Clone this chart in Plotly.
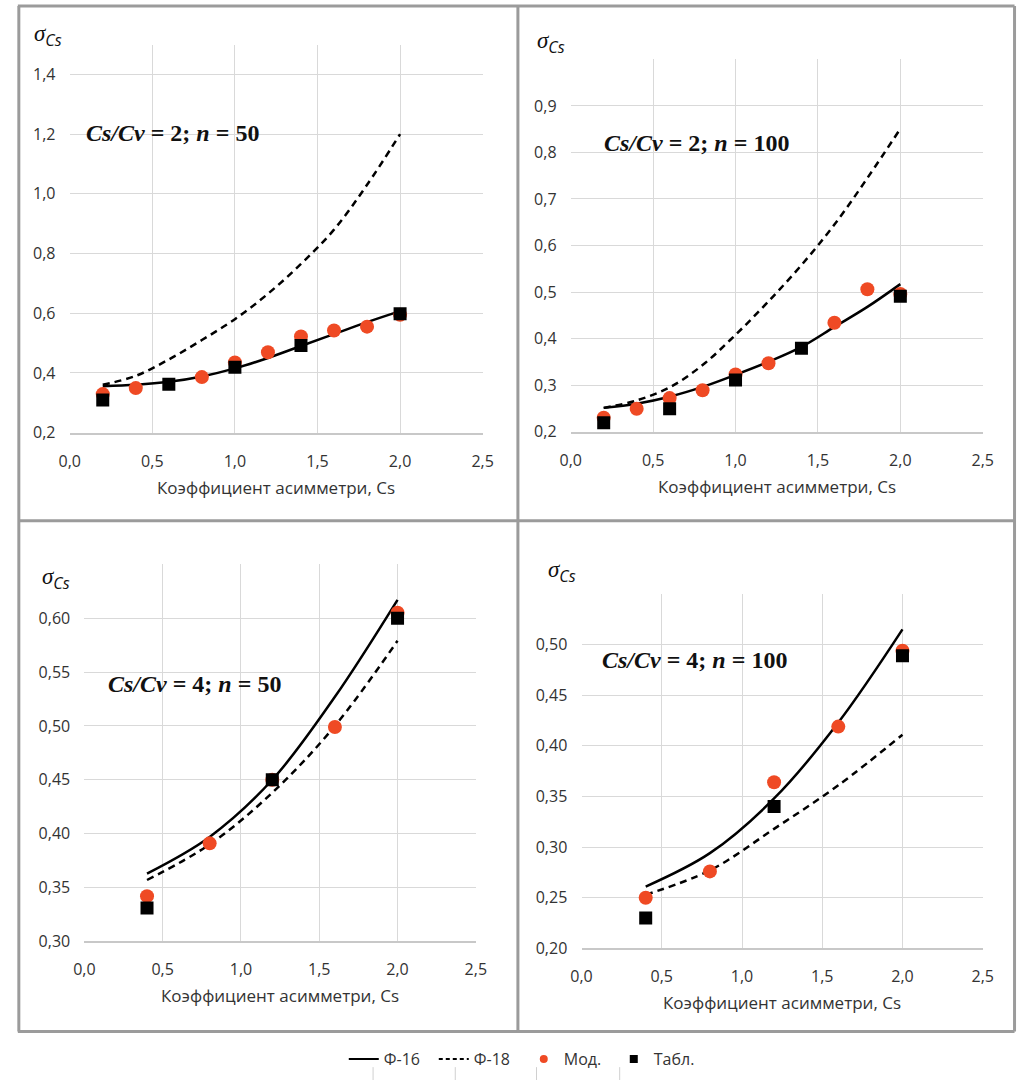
import plotly.graph_objects as go

W, H = 1027, 1091

# ---------------- data ----------------
cs_p1 = [0.2, 0.4, 0.6, 0.8, 1.0, 1.2, 1.4, 1.6, 1.8, 2.0]
f16_p1 = [0.355, 0.36, 0.37, 0.388, 0.415, 0.45, 0.49, 0.53, 0.57, 0.607]
f18_p1 = [0.36, 0.39, 0.445, 0.51, 0.58, 0.665, 0.765, 0.88, 1.03, 1.2]
mod_x_p1 = [0.2, 0.4, 0.8, 1.0, 1.2, 1.4, 1.6, 1.8, 2.0]
mod_p1 = [0.329, 0.349, 0.386, 0.435, 0.469, 0.522, 0.542, 0.555, 0.595]
tab_x_p1 = [0.2, 0.6, 1.0, 1.4, 2.0]
tab_p1 = [0.309, 0.362, 0.419, 0.492, 0.598]

cs_p2 = [0.2, 0.4, 0.6, 0.8, 1.0, 1.2, 1.4, 1.6, 1.8, 2.0]
f16_p2 = [0.251, 0.26, 0.275, 0.296, 0.322, 0.35, 0.382, 0.425, 0.468, 0.517]
f18_p2 = [0.251, 0.267, 0.295, 0.343, 0.408, 0.48, 0.558, 0.645, 0.745, 0.851]
mod_x_p2 = [0.2, 0.4, 0.6, 0.8, 1.0, 1.2, 1.6, 1.8, 2.0]
mod_p2 = [0.23, 0.249, 0.272, 0.289, 0.323, 0.347, 0.434, 0.506, 0.496]
tab_x_p2 = [0.2, 0.6, 1.0, 1.4, 2.0]
tab_p2 = [0.219, 0.249, 0.311, 0.379, 0.491]

cs_p3 = [0.4, 0.8, 1.2, 1.6, 2.0]
f16_p3 = [0.363, 0.397, 0.45, 0.527, 0.617]
f18_p3 = [0.357, 0.39, 0.438, 0.5, 0.579]
mod_x_p3 = [0.4, 0.8, 1.2, 1.6, 2.0]
mod_p3 = [0.342, 0.391, 0.45, 0.499, 0.605]
tab_x_p3 = [0.4, 1.2, 2.0]
tab_p3 = [0.331, 0.45, 0.60]

cs_p4 = [0.4, 0.8, 1.2, 1.6, 2.0]
f16_p4 = [0.261, 0.294, 0.348, 0.423, 0.515]
f18_p4 = [0.253, 0.277, 0.318, 0.361, 0.411]
mod_x_p4 = [0.4, 0.8, 1.2, 1.6, 2.0]
mod_p4 = [0.25, 0.276, 0.364, 0.419, 0.494]
tab_x_p4 = [0.4, 1.2, 2.0]
tab_p4 = [0.23, 0.34, 0.489]

x_ticks = [0.0, 0.5, 1.0, 1.5, 2.0, 2.5]
y_ticks_p1 = [0.2, 0.4, 0.6, 0.8, 1.0, 1.2, 1.4]
y_ticks_p2 = [0.2, 0.3, 0.4, 0.5, 0.6, 0.7, 0.8, 0.9]
y_ticks_p3 = [0.30, 0.35, 0.40, 0.45, 0.50, 0.55, 0.60]
y_ticks_p4 = [0.20, 0.25, 0.30, 0.35, 0.40, 0.45, 0.50]

titles = ["Cs/Cv = 2; n = 50", "Cs/Cv = 2; n = 100", "Cs/Cv = 4; n = 50", "Cs/Cv = 4; n = 100"]
x_title = "Коэффициент асимметри, Cs"
legend_names = ["Ф-16", "Ф-18", "Мод.", "Табл."]

RED = "#EF4A24"

panels = [
    dict(cs=cs_p1, f16=f16_p1, f18=f18_p1, mx=mod_x_p1, m=mod_p1, tx=tab_x_p1, t=tab_p1,
         yt=y_ticks_p1, yr=[0.2, 1.5], fmt=".1f", px=(60, 482), py=(45, 437),
         sig=(38, 36), ttl=(165, 134)),
    dict(cs=cs_p2, f16=f16_p2, f18=f18_p2, mx=mod_x_p2, m=mod_p2, tx=tab_x_p2, t=tab_p2,
         yt=y_ticks_p2, yr=[0.2, 1.0], fmt=".1f", px=(572, 993), py=(60, 436),
         sig=(552, 43), ttl=(700, 144)),
    dict(cs=cs_p3, f16=f16_p3, f18=f18_p3, mx=mod_x_p3, m=mod_p3, tx=tab_x_p3, t=tab_p3,
         yt=y_ticks_p3, yr=[0.30, 0.65], fmt=".2f", px=(75, 475), py=(570, 951),
         sig=(46, 585), ttl=(188, 691)),
    dict(cs=cs_p4, f16=f16_p4, f18=f18_p4, mx=mod_x_p4, m=mod_p4, tx=tab_x_p4, t=tab_p4,
         yt=y_ticks_p4, yr=[0.20, 0.55], fmt=".2f", px=(583, 993), py=(600, 958),
         sig=(563, 578), ttl=(698, 667)),
]

fig = go.Figure()
annotations = []
TICKFONT = dict(family="Open Sans", size=16, color="#333333")

for i, p in enumerate(panels):
    k = "" if i == 0 else str(i + 1)
    xa, ya = "x" + k, "y" + k
    fig.add_trace(go.Scatter(x=p["cs"], y=p["f16"], mode="lines", name=legend_names[0],
                             line=dict(color="black", width=2.5, shape="spline"),
                             xaxis=xa, yaxis=ya, showlegend=False))
    fig.add_trace(go.Scatter(x=p["cs"], y=p["f18"], mode="lines", name=legend_names[1],
                             line=dict(color="black", width=2.5, dash="7px,5px", shape="spline"),
                             xaxis=xa, yaxis=ya, showlegend=False))
    fig.add_trace(go.Scatter(x=p["mx"], y=p["m"], mode="markers", name=legend_names[2],
                             marker=dict(color=RED, size=14, symbol="circle"),
                             xaxis=xa, yaxis=ya, showlegend=False))
    fig.add_trace(go.Scatter(x=p["tx"], y=p["t"], mode="markers", name=legend_names[3],
                             marker=dict(color="black", size=13, symbol="square"),
                             xaxis=xa, yaxis=ya, showlegend=False))

    dom_x = [p["px"][0] / W, p["px"][1] / W]
    dom_y = [1 - p["py"][1] / H, 1 - p["py"][0] / H]
    fig.update_layout(**{
        "xaxis" + k: dict(domain=dom_x, range=[0, 2.5], tickvals=x_ticks, tickformat=".1f",
                          showgrid=True, gridcolor="#D9D9D9", gridwidth=1,
                          showline=True, linecolor="#C8C8C8", linewidth=1.5,
                          zeroline=False, ticks="", tickfont=TICKFONT,
                          ticklabelstandoff=13, anchor=ya, fixedrange=True),
        "yaxis" + k: dict(domain=dom_y, range=p["yr"], tickvals=p["yt"], tickformat=p["fmt"],
                          showgrid=True, gridcolor="#D9D9D9", gridwidth=1,
                          showline=False, zeroline=False,
                          ticks="outside", ticklen=10, tickcolor="rgba(0,0,0,0)",
                          tickfont=TICKFONT, anchor=xa, fixedrange=True),
    })
    # x axis title
    annotations.append(dict(x=(p["px"][0] + p["px"][1]) / 2 / W, y=1 - (p["py"][1] + 55) / H,
                            xref="paper", yref="paper", text=x_title, showarrow=False,
                            font=dict(family="Open Sans", size=17, color="#333333"),
                            xanchor="center", yanchor="middle"))
    # sigma label
    annotations.append(dict(x=p["sig"][0] / W, y=1 - p["sig"][1] / H, xref="paper", yref="paper",
                            text="<i>σ</i><sub><i><span style='font-family:Open Sans'>Cs</span></i></sub>",
                            showarrow=False,
                            font=dict(family="Liberation Serif", size=23, color="#111111"),
                            xanchor="center", yanchor="middle"))
    # panel title
    parts = titles[i].split(";")
    left = parts[0].split("=")
    right = parts[1].split("=")
    txt = "<b><i>%s</i>=%s;<i>%s</i>=%s</b>" % (left[0], left[1], right[0], right[1])
    annotations.append(dict(x=p["ttl"][0] / W, y=1 - p["ttl"][1] / H, xref="paper", yref="paper",
                            text=txt, showarrow=False,
                            font=dict(family="Liberation Serif", size=24, color="#111111"),
                            xanchor="center", yanchor="middle"))

# legend-only entries (small legend symbols as in the reference)
fig.add_trace(go.Scatter(x=[None], y=[None], mode="lines", name=legend_names[0],
                         line=dict(color="black", width=2)))
fig.add_trace(go.Scatter(x=[None], y=[None], mode="lines", name=legend_names[1],
                         line=dict(color="black", width=2, dash="4px,3px")))
fig.add_trace(go.Scatter(x=[None], y=[None], mode="markers", name=legend_names[2],
                         marker=dict(color=RED, size=8, symbol="circle")))
fig.add_trace(go.Scatter(x=[None], y=[None], mode="markers", name=legend_names[3],
                         marker=dict(color="black", size=8, symbol="square")))

shapes = []
BC = "#9B9B9B"
def line(x0, y0, x1, y1, color=BC, width=3):
    shapes.append(dict(type="line", xref="paper", yref="paper",
                       x0=x0 / W, y0=1 - y0 / H, x1=x1 / W, y1=1 - y1 / H,
                       line=dict(color=color, width=width)))

line(7, 6, 1025.5, 6)
line(7, 1042, 1025.5, 1042)
line(8, 6, 8, 1042)
line(1025.5, 6, 1025.5, 1042)
line(518, 6, 518, 1042)
line(8, 526, 1025.5, 526)
for xx in [370, 454, 537, 622]:
    line(xx, 1078, xx, 1091, color="#D0D0D0", width=1)

fig.update_layout(
    width=W, height=H, margin=dict(l=0, r=0, t=0, b=0),
    paper_bgcolor="white", plot_bgcolor="white",
    separators=", ",
    annotations=annotations, shapes=shapes,
    legend=dict(orientation="h", x=524 / W, xanchor="center", y=1 - 1070 / H, yanchor="middle",
                font=dict(family="Open Sans", size=16, color="#333333"),
                itemwidth=30, entrywidth=45,
                tracegroupgap=0, bgcolor="rgba(0,0,0,0)"),
)

fig.write_html("out.html")
